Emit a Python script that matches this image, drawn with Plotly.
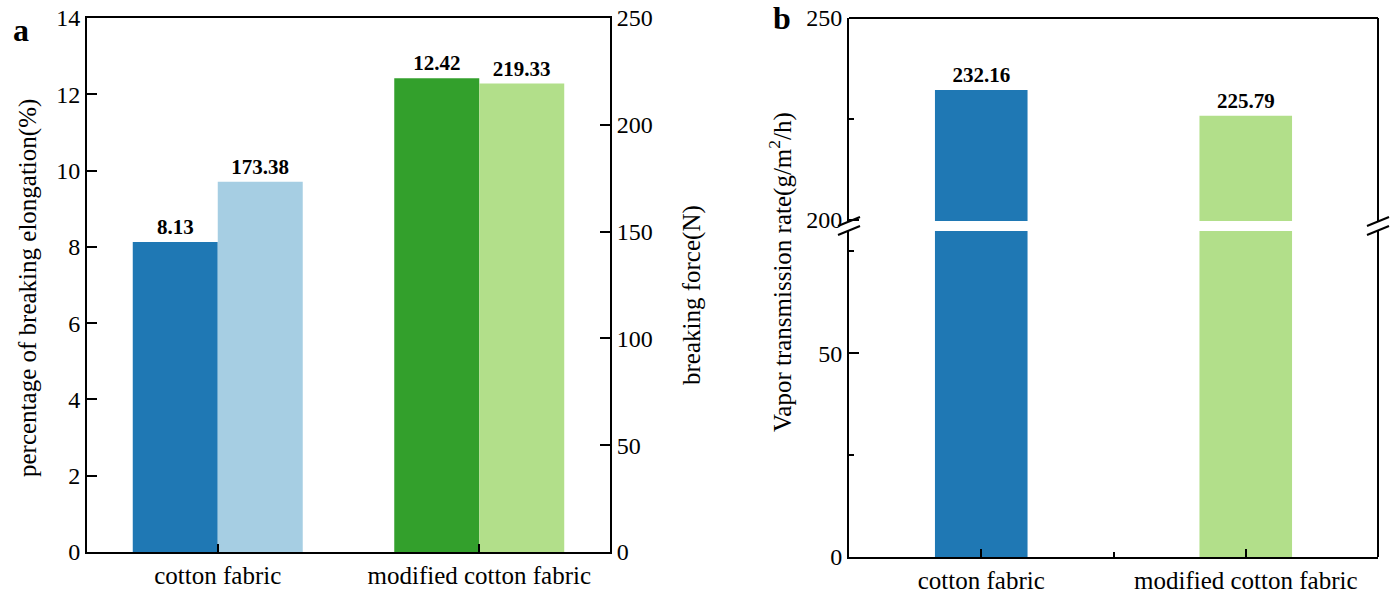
import plotly.graph_objects as go

W, H = 1398, 594

# ---------------- data ----------------
categories = ["cotton fabric", "modified cotton fabric"]
elongation_pct = [8.13, 12.42]          # left axis, panel a
breaking_force = [173.38, 219.33]       # right axis, panel a
vapor_rate = [232.16, 225.79]           # panel b

col_elong = ["#1f78b4", "#33a02c"]
col_force = ["#a6cee3", "#b2df8a"]
col_vapor = ["#1f78b4", "#b2df8a"]

FONT = "Liberation Serif"


def px(x):
    return x / W


def py(y):
    return 1 - y / H


fig = go.Figure()

xpos = list(range(len(categories)))

# panel a
fig.add_trace(go.Bar(x=xpos, y=elongation_pct, width=0.325, offset=-0.325,
                     marker=dict(color=col_elong, line=dict(width=0)),
                     text=[f"<b>{v:.2f}</b>" for v in elongation_pct],
                     textposition="outside", cliponaxis=False,
                     textfont=dict(family=FONT, size=21, color="black"),
                     xaxis="x", yaxis="y", showlegend=False))
fig.add_trace(go.Bar(x=xpos, y=breaking_force, width=0.325, offset=0,
                     marker=dict(color=col_force, line=dict(width=0)),
                     text=[f"<b>{v:.2f}</b>" for v in breaking_force],
                     textposition="outside", cliponaxis=False,
                     textfont=dict(family=FONT, size=21, color="black"),
                     xaxis="x", yaxis="y2", showlegend=False))

# panel b (broken axis: lower and upper parts)
fig.add_trace(go.Bar(x=xpos, y=vapor_rate, width=0.35,
                     marker=dict(color=col_vapor, line=dict(width=0)),
                     xaxis="x2", yaxis="y3", showlegend=False))
fig.add_trace(go.Bar(x=xpos, y=vapor_rate, width=0.35,
                     marker=dict(color=col_vapor, line=dict(width=0)),
                     text=[f"<b>{v:.2f}</b>" for v in vapor_rate],
                     textposition="outside", cliponaxis=False,
                     textfont=dict(family=FONT, size=21, color="black"),
                     xaxis="x2", yaxis="y4", showlegend=False))

tickfont = dict(family=FONT, size=24, color="black")
xtickfont = dict(family=FONT, size=25, color="black")
axis_common = dict(showgrid=False, zeroline=False, showline=True,
                   linecolor="black", linewidth=2, ticks="inside",
                   tickcolor="black", tickwidth=2, automargin=False)

fig.update_layout(
    width=W, height=H, autosize=False,
    margin=dict(l=0, r=0, t=0, b=0, pad=0),
    paper_bgcolor="white", plot_bgcolor="white",
    barmode="overlay",
    font=dict(family=FONT, color="black"),
    xaxis=dict(**axis_common, tickfont=xtickfont,
               domain=[px(87), px(610)], anchor="y",
               range=[-0.5, 1.5], tickvals=xpos, ticktext=categories,
               ticklen=8, mirror=True),
    yaxis=dict(**axis_common, tickfont=tickfont,
               domain=[py(552), py(18)], anchor="x",
               range=[0, 14], dtick=2, tick0=0, ticklen=10),
    yaxis2=dict(**axis_common, tickfont=tickfont,
                domain=[py(552), py(18)], anchor="x",
                overlaying="y", side="right",
                range=[0, 250], dtick=50, tick0=0, ticklen=10),
    xaxis2=dict(**axis_common, tickfont=xtickfont,
                domain=[px(849), px(1378)], anchor="y3",
                range=[-0.5, 1.5], tickvals=xpos, ticktext=categories,
                ticklen=8,
                minor=dict(tickvals=[0.5], ticks="inside", ticklen=5,
                           tickwidth=2, tickcolor="black")),
    yaxis3=dict(**axis_common, tickfont=tickfont,
                domain=[py(557), py(231)], anchor="x2",
                range=[0, 80], tickvals=[0, 50], ticklen=10,
                minor=dict(tickvals=[25, 75], ticks="inside", ticklen=5,
                           tickwidth=2, tickcolor="black")),
    yaxis4=dict(**axis_common, tickfont=tickfont,
                domain=[py(221), py(18)], anchor="x2",
                range=[199.75, 250], tickvals=[200, 250], ticklen=10,
                minor=dict(tickvals=[225], ticks="inside", ticklen=5,
                           tickwidth=2, tickcolor="black")),
)

shapes = []
line = dict(color="black", width=2)
# panel b top and right spines
shapes.append(dict(type="line", xref="paper", yref="paper",
                   x0=px(849), x1=px(1378), y0=py(18), y1=py(18), line=line))
shapes.append(dict(type="line", xref="paper", yref="paper",
                   x0=px(1378), x1=px(1378), y0=py(18), y1=py(557), line=line))
# white gap on right spine at the break
shapes.append(dict(type="line", xref="paper", yref="paper",
                   x0=px(1378), x1=px(1378), y0=py(222), y1=py(230),
                   line=dict(color="white", width=4)))
# break marks on both spines
for cx in (849, 1378):
    for yl, yr in ((226, 217), (235, 226)):
        shapes.append(dict(type="line", xref="paper", yref="paper",
                           x0=px(cx - 11), x1=px(cx + 11),
                           y0=py(yl), y1=py(yr), line=line))
fig.update_layout(shapes=shapes)

title_font = dict(family=FONT, size=25, color="black")
annotations = [
    dict(text="percentage of breaking elongation(%)", x=px(28), y=py(288),
         textangle=-90, font=title_font),
    dict(text="breaking force(N)", x=px(692), y=py(295),
         textangle=-90, font=title_font),
    dict(text="Vapor transmission rate(g/m<sup>2</sup>/h)", x=px(780), y=py(272),
         textangle=-90, font=title_font),
    dict(text="<b>a</b>", x=px(21), y=py(30),
         font=dict(family=FONT, size=32, color="black")),
    dict(text="<b>b</b>", x=px(782), y=py(18),
         font=dict(family=FONT, size=32, color="black")),
]
for a in annotations:
    a.update(xref="paper", yref="paper", showarrow=False,
             xanchor="center", yanchor="middle")
fig.update_layout(annotations=annotations)

fig.write_html("out.html")
